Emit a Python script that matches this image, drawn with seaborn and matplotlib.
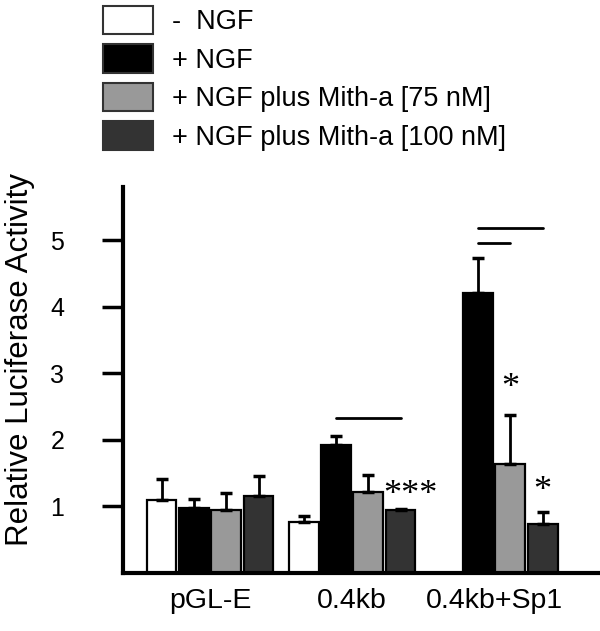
import matplotlib
matplotlib.use('Agg')
import matplotlib.pyplot as plt
import pandas as pd
import seaborn as sns

# Data
groups = ['pGL-E', '0.4kb', '0.4kb+Sp1']
conditions = ['-  NGF', '+ NGF', '+ NGF plus Mith-a [75 nM]', '+ NGF plus Mith-a [100 nM]']
colors = ['#ffffff', '#000000', '#999999', '#333333']

values = {
    'pGL-E': [1.10, 0.98, 0.94, 1.16],
    '0.4kb': [0.76, 1.93, 1.21, 0.94],
    '0.4kb+Sp1': [None, 4.21, 1.64, 0.73],
}
errors = {
    'pGL-E': [0.31, 0.13, 0.26, 0.29],
    '0.4kb': [0.10, 0.13, 0.26, 0.02],
    '0.4kb+Sp1': [None, 0.52, 0.74, 0.19],
}

# significance lines: (group, first condition, last condition, height)
brackets = [('0.4kb', 1, 3, 2.33), ('0.4kb+Sp1', 1, 3, 5.18), ('0.4kb+Sp1', 1, 2, 4.96)]
# asterisks: (group, condition, text, height)
stars = [('0.4kb', 3, '***', 1.16), ('0.4kb+Sp1', 2, '*', 2.77), ('0.4kb+Sp1', 3, '*', 1.22)]

rows = []
for g in groups:
    for i, c in enumerate(conditions):
        if values[g][i] is not None:
            rows.append({'group': g, 'cond': i, 'condition': c,
                         'value': values[g][i], 'err': errors[g][i]})
df = pd.DataFrame(rows)

sns.set_style('ticks')
plt.rcParams['font.family'] = ['Liberation Sans', 'DejaVu Sans']
plt.rcParams.update({'text.color': 'black', 'axes.labelcolor': 'black',
                     'xtick.color': 'black', 'ytick.color': 'black',
                     'axes.edgecolor': 'black'})

fig = plt.figure(figsize=(6, 6.31), dpi=100)
ax = fig.add_axes([0.2045, 0.0919, 0.7955, 0.6118])

sns.barplot(data=df, x='group', y='value', hue='condition', order=groups,
            hue_order=conditions, palette=colors, errorbar=None, width=0.91,
            gap=0.08, edgecolor='black', linewidth=1.6, ax=ax)

# bar centres taken from the drawn patches (matched by height)
pos = {}
for bar in ax.patches:
    if bar.get_width() == 0:
        continue
    pos.setdefault(round(bar.get_height(), 4), []).append(bar.get_x() + bar.get_width() / 2)

centres = {}
for _, r in df.iterrows():
    x = pos[round(r['value'], 4)].pop(0)
    centres[(r['group'], r['cond'])] = x
    ax.errorbar(x, r['value'], yerr=[[0], [r['err']]], fmt='none', ecolor='black',
                elinewidth=2, capsize=4, capthick=2.5, zorder=1)

for g, i0, i1, h in brackets:
    ax.plot([centres[(g, i0)], centres[(g, i1)]], [h, h], color='black', lw=2)

for g, i, txt, h in stars:
    dx = 0.07 if len(txt) > 1 else 0
    ax.text(centres[(g, i)] + dx, h, txt, ha='center', va='center',
            fontsize=26, family='Liberation Serif')

ax.set_ylim(0, 5.8)
ax.set_xlim(-0.615, 2.745)
ax.set_yticks([1, 2, 3, 4, 5])
ax.set_xlabel('')
ax.set_ylabel('Relative Luciferase Activity', fontsize=22.5)
ax.yaxis.set_label_coords(-0.184, 0.552)
ax.tick_params(axis='y', length=15, width=2.5, pad=27, labelsize=18)
ax.tick_params(axis='x', length=0, pad=11, labelsize=20.5)
for s in ['top', 'right']:
    ax.spines[s].set_visible(False)
for s in ['left', 'bottom']:
    ax.spines[s].set_linewidth(3)

handles, labels = ax.get_legend_handles_labels()
ax.get_legend().remove()
for h in handles:
    h.set_edgecolor('#333333')
    h.set_linewidth(1.5)
fig.legend(handles, labels, loc='upper left', bbox_to_anchor=(103 / 600, 1 - 6 / 631),
           frameon=False, fontsize=19.5, handlelength=1.84, handleheight=1.23,
           handletextpad=0.7, labelspacing=0.34, borderpad=0, borderaxespad=0)

fig.savefig('out.png', dpi=100)
